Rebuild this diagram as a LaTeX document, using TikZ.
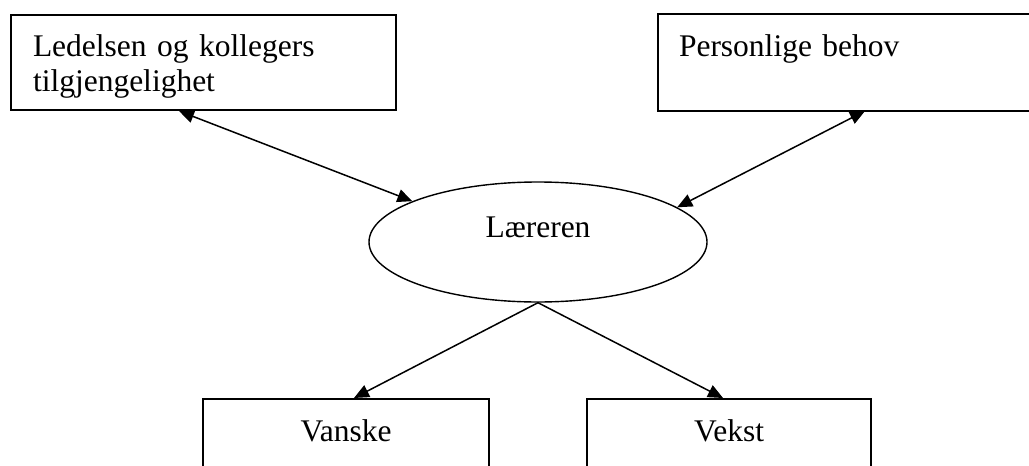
\documentclass[tikz,border=0pt]{standalone}
\usepackage{fontspec}
\setmainfont{Liberation Serif}
\usetikzlibrary{arrows.meta,shapes.geometric}

\begin{document}
\begin{tikzpicture}[x=1pt,y=-1pt,
    every node/.style={font=\fontsize{31.5}{35}\selectfont},
    box/.style={draw, line width=2pt, fill=white, rectangle, anchor=north west,
                inner ysep=0pt, text height=41pt, text depth=54pt},
    lowbox/.style={draw, line width=2pt, fill=white, rectangle, anchor=north west,
                inner sep=0pt, align=center, text height=42pt, text depth=80pt},
    hub/.style={draw, line width=1.4pt, ellipse, inner sep=0pt,
                minimum width=338pt, minimum height=120pt,
                text height=20pt, text depth=30pt},
    link/.style={line width=1.5pt, -{Triangle[length=15pt,width=13pt]}},
    biLink/.style={line width=1.5pt,
                {Triangle[length=15pt,width=13pt]}-{Triangle[length=15pt,width=13pt]}}
  ]
  \useasboundingbox (0,0) rectangle (1029,466);

  % surrounding factors
  \node[box, inner xsep=22pt, text width=341pt, align=left] (lk) at (10,14)
    {Ledelsen og kollegers\\tilgjengelighet};
  % this box runs off the right edge, so its right side is left open
  \node[box, draw=none, inner xsep=20pt, text width=380pt, align=left] (pb) at (658,14)
    {Personlige behov};
  \draw[line width=2pt] (pb.north east) -- (pb.north west) -- (pb.south west) -- (pb.south east);

  % the teacher in the middle
  \node[hub] (ell) at (538,242) {Læreren};

  % outcomes
  \node[lowbox, text width=286pt] (va) at (202,398) {Vanske};
  \node[lowbox, text width=284pt] (ve) at (586,398) {Vekst};

  % connectors
  \draw[biLink] ([xshift=169pt]lk.south west) -- (ell.162);
  \draw[biLink] ([xshift=207pt]pb.south west) -- (ell.14);
  \draw[link] (ell.south) -- ([xshift=8pt]va.north);
  \draw[link] (ell.south) -- ([xshift=-6pt]ve.north);
\end{tikzpicture}
\end{document}
